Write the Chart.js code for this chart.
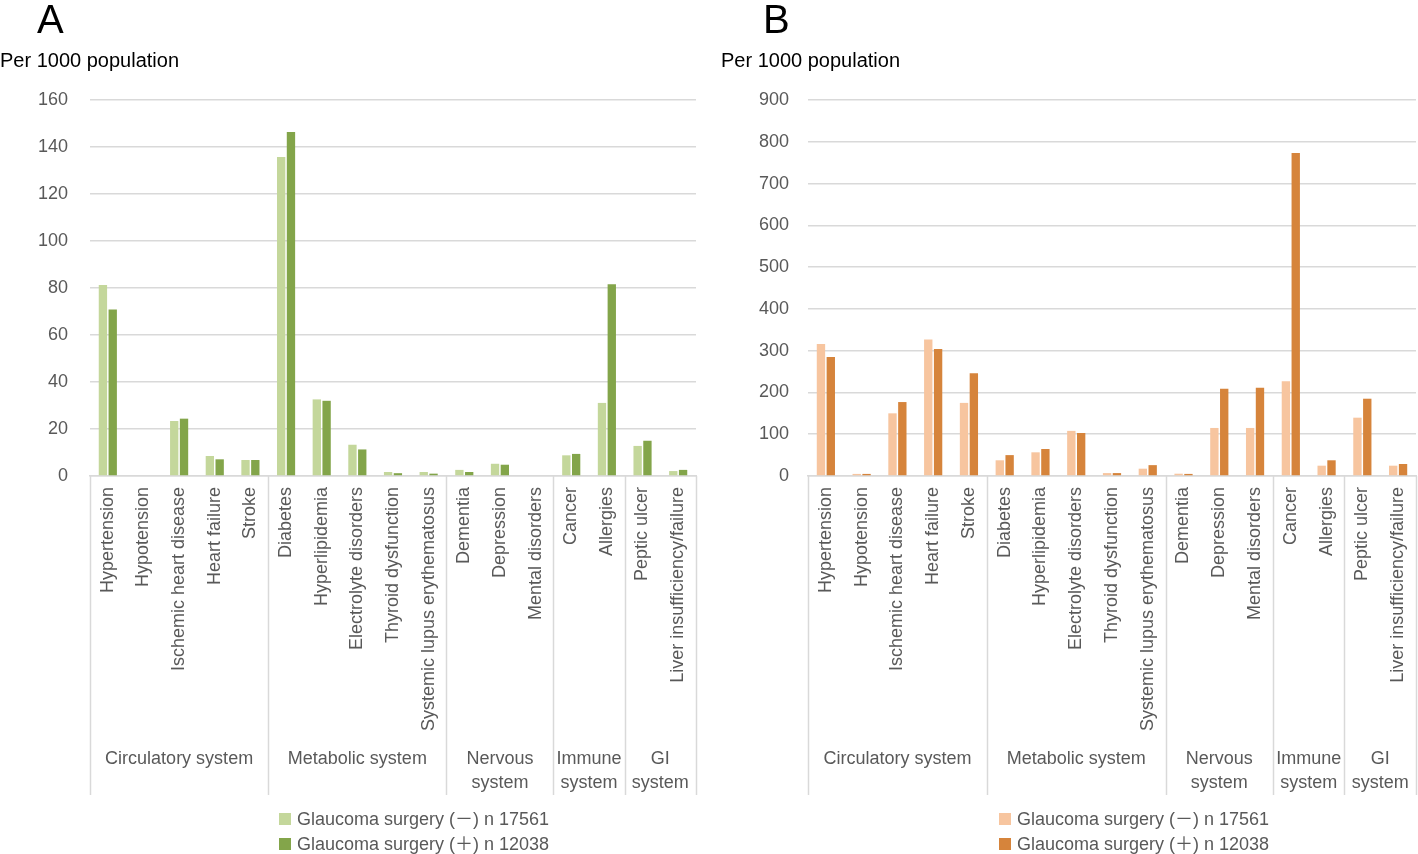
<!DOCTYPE html>
<html>
<head>
<meta charset="utf-8">
<script src="https://cdn.jsdelivr.net/npm/chart.js@4/dist/chart.umd.min.js"></script>
<style>
  body { margin: 0; width: 1418px; height: 854px; overflow: hidden; background: #fff; font-family: 'Liberation Sans', Arial, sans-serif; }
  .panel { position: absolute; top: 0; width: 709px; height: 854px; }
  .letter { position: absolute; top: -1px; font-size: 40px; line-height: 40px; color: #000; }
  .unit { position: absolute; top: 50px; font-size: 20px; line-height: 20px; color: #000; white-space: nowrap; }
</style>
</head>
<body>
<div class="panel" style="left:0"><canvas id="chartA" width="709" height="854"></canvas></div>
<div class="panel" style="left:709px"><canvas id="chartB" width="709" height="854"></canvas></div>
<div class="letter" style="left:37px">A</div>
<div class="letter" style="left:763px">B</div>
<div class="unit" style="left:0">Per 1000 population</div>
<div class="unit" style="left:721px">Per 1000 population</div>
<script>
const CONDITIONS = [
  'Hypertension', 'Hypotension', 'Ischemic heart disease', 'Heart failure', 'Stroke',
  'Diabetes', 'Hyperlipidemia', 'Electrolyte disorders', 'Thyroid dysfunction', 'Systemic lupus erythematosus',
  'Dementia', 'Depression', 'Mental disorders',
  'Cancer', 'Allergies',
  'Peptic ulcer', 'Liver insufficiency/failure'
]
const GROUPS = [['Circulatory system'], ['Metabolic system'], ['Nervous', 'system'], ['Immune', 'system'], ['GI', 'system']]
const GROUP_SIZES = [5, 5, 3, 2, 2]

const LABEL_NO = 'Glaucoma surgery (\uFF0D) n 17561'
const LABEL_YES = 'Glaucoma surgery (\uFF0B) n 12038'

// panel A
const A_NO = [81.3, 0, 23.4, 8.5, 6.8, 135.7, 32.6, 13.3, 1.7, 1.7, 2.6, 5.2, 0, 8.8, 31.1, 12.8, 2.1]
const A_YES = [70.9, 0, 24.4, 7.1, 6.8, 146.4, 32.0, 11.3, 1.2, 1.0, 1.7, 4.8, 0, 9.4, 81.6, 15.0, 2.6]
// panel B
const B_NO = [316, 5, 150, 327, 175, 37.6, 56.7, 108, 7, 17.5, 5.5, 115, 115, 227, 24.7, 139.6, 24.7]
const B_YES = [285, 5, 177, 304, 246, 50, 64.6, 103, 7, 26, 5, 209, 211, 773, 37.6, 185, 28.7]

const FONT = "'Liberation Sans', Arial, sans-serif"
const LEGEND_FONT = "'Liberation Sans', 'Noto Sans CJK JP', sans-serif"
const GRID = '#d9d9d9'
const TEXT = '#595959'

const groupPlugin = {
  id: 'groups',
  afterDraw(chart, args, opts) {
    const ctx = chart.ctx
    const x = chart.scales.x
    const bottom = 795
    let edges = [x.left]
    let idx = 0
    GROUP_SIZES.forEach((n, g) => {
      idx += n
      if (idx < CONDITIONS.length) {
        edges.push((x.getPixelForTick(idx - 1) + x.getPixelForTick(idx)) / 2)
      } else {
        edges.push(x.right)
      }
    })
    ctx.save()
    ctx.strokeStyle = GRID
    ctx.lineWidth = 1.5
    edges.forEach(e => {
      ctx.beginPath()
      ctx.moveTo(Math.round(e) + 0.5, x.top)
      ctx.lineTo(Math.round(e) + 0.5, bottom)
      ctx.stroke()
    })
    ctx.fillStyle = TEXT
    ctx.font = '18px ' + FONT
    ctx.textAlign = 'center'
    ctx.textBaseline = 'middle'
    GROUPS.forEach((lines, g) => {
      const cx = (edges[g] + edges[g + 1]) / 2
      lines.forEach((t, i) => ctx.fillText(t, cx, 759 + i * 24))
    })

    // legend, stacked
    ctx.textAlign = 'left'
    ctx.font = '18px ' + LEGEND_FONT
    chart.data.datasets.forEach((ds, i) => {
      const cy = 819 + i * 25
      ctx.fillStyle = ds.backgroundColor
      ctx.fillRect(opts.legendX, cy - 6, 12, 12)
      ctx.fillStyle = TEXT
      ctx.fillText(ds.label, opts.legendX + 18, cy + 1)
    })
    ctx.restore()
  }
}

function makeChart(id, noData, yesData, colors, yMax, yStep, axisWidth, tickPad, padRight, legendX) {
  return new Chart(document.getElementById(id), {
    type: 'bar',
    data: {
      labels: CONDITIONS,
      datasets: [
        {
          label: LABEL_NO,
          data: noData,
          backgroundColor: colors[0],
          categoryPercentage: 0.55,
          barPercentage: 0.85,
        },
        {
          label: LABEL_YES,
          data: yesData,
          backgroundColor: colors[1],
          categoryPercentage: 0.55,
          barPercentage: 0.85,
        },
      ],
    },
    plugins: [groupPlugin],
    options: {
      responsive: false,
      animation: false,
      layout: { padding: { top: 100, right: padRight, bottom: 0, left: 0 } },
      plugins: {
        legend: { display: false },
        title: { display: false },
        tooltip: { enabled: false },
        groups: { legendX: legendX },
      },
      scales: {
        x: {
          grid: { display: false, drawTicks: false },
          border: { display: true, color: GRID, width: 1.5 },
          ticks: {
            autoSkip: false,
            minRotation: 90,
            maxRotation: 90,
            padding: 11,
            color: TEXT,
            font: { family: FONT, size: 18 },
          },
          afterFit: (s) => {
            s.height = 854 - 476
            s.paddingLeft = 0
            s.paddingRight = 0
          },
        },
        y: {
          min: 0,
          max: yMax,
          grid: { color: GRID, lineWidth: 1.5, drawTicks: false },
          border: { display: false },
          ticks: {
            stepSize: yStep,
            padding: tickPad,
            color: TEXT,
            font: { family: FONT, size: 18 },
          },
          afterFit: (s) => { s.width = axisWidth },
        },
      },
    },
  })
}

const chartA = makeChart('chartA', A_NO, A_YES, ['#c4d79b', '#83a54a'], 160, 20, 90, 22, 13, 279)
const chartB = makeChart('chartB', B_NO, B_YES, ['#f7c59f', '#d6843b'], 900, 100, 99, 19, 2, 290)
</script>
</body>
</html>
